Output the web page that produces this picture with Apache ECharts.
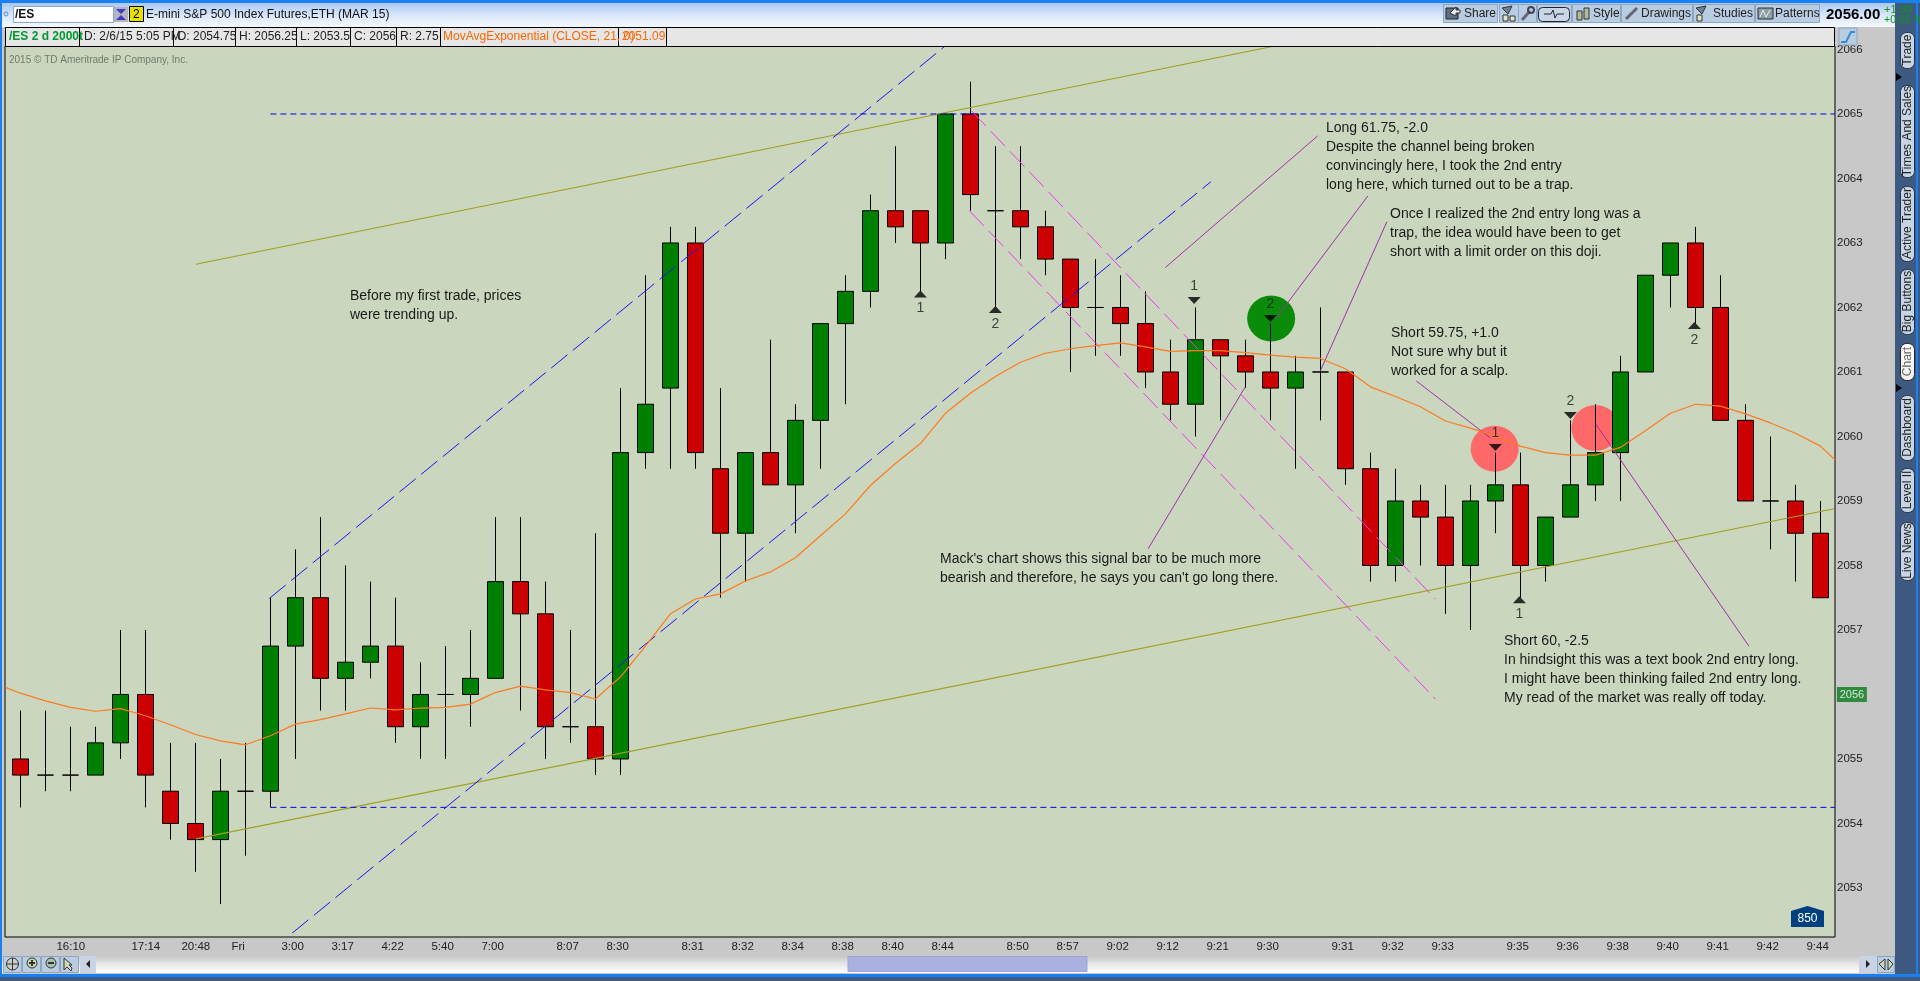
<!DOCTYPE html>
<html><head><meta charset="utf-8">
<style>html,body{margin:0;padding:0;background:#c8c8c8;overflow:hidden}#c{width:1920px;height:981px}</style>
<script src="https://cdn.jsdelivr.net/npm/echarts@6/dist/echarts.min.js"></script>
</head><body><div id="c"></div>
<script>
// bars: [open, close, low, high]
const ohlc = [
[2055,2054.75,2054.25,2055.75],[2054.75,2054.75,2054.5,2055.75],[2054.75,2054.75,2054.5,2055.5],[2054.75,2055.25,2054.75,2055.5],
[2055.25,2056,2055,2057],[2056,2054.75,2054.25,2057],[2054.5,2054,2053.75,2055.25],[2054,2053.75,2053.25,2055.25],
[2053.75,2054.5,2052.75,2055],[2054.5,2054.5,2053.5,2055.25],[2054.5,2056.75,2054.25,2057.5],[2056.75,2057.5,2055,2058.25],
[2057.5,2056.25,2055.75,2058.75],[2056.25,2056.5,2055.75,2058],[2056.5,2056.75,2056.25,2057.75],[2056.75,2055.5,2055.25,2057.5],
[2055.5,2056,2055,2056.5],[2056,2056,2055,2056.75],[2056,2056.25,2055.5,2057],[2056.25,2057.75,2056.25,2058.75],
[2057.75,2057.25,2055.75,2058.75],[2057.25,2055.5,2055,2057.75],[2055.5,2055.5,2055.25,2057],[2055.5,2055,2054.75,2058.5],
[2055,2059.75,2054.75,2060.75],[2059.75,2060.5,2059.5,2062.5],[2060.75,2063,2059.5,2063.25],[2063,2059.75,2059.5,2063.25],
[2059.5,2058.5,2057.5,2060.75],[2058.5,2059.75,2057.75,2059.75],[2059.75,2059.25,2059.25,2061.5],[2059.25,2060.25,2058.5,2060.5],
[2060.25,2061.75,2059.5,2061.75],[2061.75,2062.25,2060.5,2062.5],[2062.25,2063.5,2062,2063.75],[2063.5,2063.25,2063,2064.5],
[2063.5,2063,2062.25,2063.5],[2063,2065,2062.75,2065],[2065,2063.75,2063.5,2065.5],[2063.5,2063.5,2062,2064.5],
[2063.5,2063.25,2062.75,2064.5],[2063.25,2062.75,2062.5,2063.5],[2062.75,2062,2061,2062.75],[2062,2062,2061.25,2062.75],
[2062,2061.75,2061.25,2062.5],[2061.75,2061,2060.75,2062.25],[2061,2060.5,2060.25,2061.5],[2060.5,2061.5,2060,2062],
[2061.5,2061.25,2060.25,2061.5],[2061.25,2061,2060.75,2061.5],[2061,2060.75,2060.25,2061.75],[2060.75,2061,2059.5,2061.25],
[2061,2061,2060.25,2062],[2061,2059.5,2059.25,2061],[2059.5,2058,2057.75,2059.75],[2058,2059,2057.75,2059.5],
[2059,2058.75,2058,2059.25],[2058.75,2058,2057.25,2059.25],[2058,2059,2057,2059.25],[2059,2059.25,2058.5,2059.75],
[2059.25,2058,2057.5,2059.75],[2058,2058.75,2057.75,2058.75],[2058.75,2059.25,2058.75,2060.25],[2059.25,2059.75,2059,2060.5],
[2059.75,2061,2059,2061.25],[2061,2062.5,2061,2062.5],[2062.5,2063,2062,2063],[2063,2062,2061.75,2063.25],
[2062,2060.25,2060.25,2062.5],[2060.25,2059,2059,2060.5],[2059,2059,2058.25,2060],[2059,2058.5,2057.75,2059.25],
[2058.5,2057.5,2057.5,2059]
];
const emaValues = [
2056.02,2055.9,2055.8,2055.74,2055.78,2055.67,2055.53,2055.38,2055.28,2055.22,2055.36,2055.54,2055.61,2055.7,2055.79,2055.76,
2055.79,2055.8,2055.85,2056.03,2056.13,2056.07,2056.03,2055.93,2056.27,2056.75,2057.25,2057.48,2057.56,2057.76,2057.9,2058.12,
2058.46,2058.8,2059.24,2059.58,2059.89,2060.36,2060.67,2060.93,2061.15,2061.29,2061.36,2061.41,2061.45,2061.39,2061.32,2061.33,
2061.33,2061.3,2061.26,2061.23,2061.21,2061.05,2060.77,2060.62,2060.46,2060.24,2060.13,2060.01,2059.85,2059.75,2059.71,2059.71,
2059.83,2060.09,2060.36,2060.5,2060.47,2060.35,2060.21,2060.05,2059.85
];
const emaLead = [-0.6, 2056.11];
const emaTrail = [72.58, 2059.64];
const timeLabels = {2:'16:10',5:'17:14',7:'20:48',9:'Fri',11:'3:00',13:'3:17',15:'4:22',17:'5:40',19:'7:00',22:'8:07',24:'8:30',27:'8:31',29:'8:32',31:'8:34',33:'8:38',35:'8:40',37:'8:44',40:'8:50',42:'8:57',44:'9:02',46:'9:12',48:'9:21',50:'9:30',53:'9:31',55:'9:32',57:'9:33',60:'9:35',62:'9:36',64:'9:38',66:'9:40',68:'9:41',70:'9:42',72:'9:44'};
const priceTicks = [2053,2054,2055,2057,2058,2059,2060,2061,2062,2063,2064,2065,2066];
const lastPrice = 2056;
const olive = [[[7.02,2062.67],[50.12,2066.05]],[[7.02,2053.76],[72.55,2058.88]]];
const blueChannel = [[[9.96,2057.49],[36.98,2066.05]],[[10.87,2052.3],[47.62,2063.95]]];
const blueLevels = [[[10,2065],[72.58,2065]],[[10,2054.25],[72.58,2054.25]]];
const magenta = [[[38.04,2065.05],[56.6,2057.48]],[[37.96,2063.5],[56.6,2055.93]]];
const purple = [
[[45.8,2062.62],[51.89,2064.66]],[[50.2,2061.82],[53.9,2063.73]],[[52,2061.02],[54.66,2063.33]],
[[45.11,2058.26],[48.98,2060.76]],[[55.84,2060.86],[58.79,2059.98]],[[63.02,2060.19],[69.14,2056.75]]
];
const circlesGreen = [[50.03,2061.83]];
const circlesRed = [[58.97,2059.81],[63,2060.13]];
const upMarks = [[36,2062.21,'1'],[39,2061.97,'2'],[59.96,2057.47,'1'],[66.96,2061.72,'2']];
const downMarks = [[46.95,2062.11,'1'],[50,2061.83,'2'],[59,2059.83,'1'],[62,2060.325,'2']];
const notes = [
 {x:350,y:296,t:'Before my first trade, prices\nwere trending up.'},
 {x:1326,y:128,t:"Long 61.75, -2.0\nDespite the channel being broken\nconvincingly here, I took the 2nd entry\nlong here, which turned out to be a trap."},
 {x:1390,y:214,t:'Once I realized the 2nd entry long was a\ntrap, the idea would have been to get\nshort with a limit order on this doji.'},
 {x:1391,y:333,t:'Short 59.75, +1.0\nNot sure why but it\nworked for a scalp.'},
 {x:1504,y:641,t:'Short 60, -2.5\nIn hindsight this was a text book 2nd entry long.\nI might have been thinking failed 2nd entry long.\nMy read of the market was really off today.'},
 {x:940,y:559,t:"Mack's chart shows this signal bar to be much more\nbearish and therefore, he says you can't go long there."}
];
const headerCells = [
 ['/ES 2 d 2000t',9,'#009933','bold'],['D: 2/6/15 5:05 PM',84,'#222'],['O: 2054.75',177,'#222'],['H: 2056.25',239,'#222'],
 ['L: 2053.5',300,'#222'],['C: 2056',354,'#222'],['R: 2.75',400,'#222'],['MovAvgExponential (CLOSE, 21, 0)',443,'#ff6600'],['2051.09',622,'#ff6600']
];
const headerDividers = [79,173,235,296,350,396,440,618,666];
const toolButtons = [[1443,54,'Share',1464],[1499,19,''],[1518,18,''],[1537,34,''],[1572,48,'Style',1593],[1621,71,'Drawings',1641],[1693,61,'Studies',1713],[1755,64,'Patterns',1775]];
const sideTabs = [['Trade',32,68],['Times And Sales',85,177],['Active Trader',186,261],['Big Buttons',269,334],['Chart',343,380,1],['Dashboard',395,460],['Level II',468,512],['Live News',522,580]];

const FONT = '"Liberation Sans", Arial, sans-serif';
const chart = echarts.init(document.getElementById('c'), null, {renderer:'canvas', width:1920, height:981});
const rect=(x,y,w,h,fill,stroke,r,z)=>({type:'rect',shape:{x,y,width:w,height:h,r:r||0},style:{fill,stroke:stroke||null,lineWidth:1},z:z||20,silent:true});
const txt=(x,y,text,font,fill,extra)=>Object.assign({type:'text',x,y,style:{text,font,fill,textVerticalAlign:'middle',textAlign:'left'},z:21,silent:true},extra||{});
const vgrad=(a)=>({type:'linear',x:0,y:0,x2:0,y2:1,colorStops:a.map((c,i)=>({offset:i/(a.length-1),color:c}))});
const poly=(pts,fill,stroke,z)=>({type:'polygon',shape:{points:pts},style:{fill,stroke:stroke||null,lineWidth:1},z:z||21,silent:true});
const pl=(pts,stroke,w)=>({type:'polyline',shape:{points:pts},style:{fill:null,stroke,lineWidth:w||1},z:22,silent:true});

const g=[];
// top bar
g.push(rect(0,0,1920,3,'#1a80f0'));
g.push(rect(0,3,1920,24,vgrad(['#a8c8f4','#d8e6fa','#f4f8fe'])));
g.push(rect(0,3,2,978,'#1a80f0'));
g.push(rect(1895,3,25,978,'#3e5a80'));
g.push(rect(1916,3,2,978,'#1a80f0'));
// symbol box
g.push({type:'circle',shape:{cx:6,cy:14,r:2},style:{fill:null,stroke:'#5a88d8'},z:21,silent:true});
g.push(rect(13.5,6.5,100,16,'#fff','#8aa8d0'));
g.push(txt(15,15,'/ES','bold 12px '+FONT,'#111'));
g.push(rect(114,7,14,15,'#b4b4c0'));
g.push(poly([[116,9],[126,9],[121,14]],'#3c3cc0'));
g.push(poly([[116,20],[126,20],[121,15]],'#3c3cc0'));
g.push(rect(129.5,6.5,14,15,'#e8e000','#000'));
g.push(txt(133,15,'2','12px '+FONT,'#000'));
g.push(txt(146,15,'E-mini S&P 500 Index Futures,ETH (MAR 15)','12px '+FONT,'#111'));
// tool buttons
toolButtons.forEach(b=>{
  g.push(rect(b[0]+.5,4.5,b[1],18,'#b9cde2','#8ea6c0'));
  if(b[2]) g.push(txt(b[3],14,b[2],'12px '+FONT,'#222'));
});
g.push(rect(1446,8,12,11,'#5d7288','#222'));g.push(poly([[1450,13],[1456,7],[1456,10],[1460,10],[1460,13],[1456,13],[1456,16]],'#e8eef4','#333'));
g.push(poly([[1502,8],[1512,6],[1508,14]],'#6e8296','#333'));g.push(rect(1503,15,5,6,'#dfe6c8','#333'));g.push(rect(1510,16,5,5,'#dfe6c8','#333'));
g.push(pl([[1522,20],[1530,11]],'#667',3));g.push({type:'circle',shape:{cx:1531,cy:10,r:3},style:{fill:null,stroke:'#445',lineWidth:2},z:22,silent:true});
g.push(rect(1538.5,7.5,31,14,'#c8d6e6','#223',4));g.push(pl([[1544,14],[1551,14],[1553,10],[1555,18],[1557,14],[1564,14]],'#223'));
g.push(rect(1577,11,5,9,'#b0bc98','#333'));g.push(rect(1584,8,5,11,'#b0bc98','#333'));
g.push(pl([[1626,19],[1637,8]],'#667',3));
g.push(poly([[1696,8],[1706,6],[1702,14]],'#6e8296','#333'));g.push(rect(1697,15,5,6,'#dfe6c8','#333'));
g.push(rect(1758,8,15,11,'#8ea0a8','#333'));g.push(pl([[1760,17],[1763,10],[1766,17],[1770,10]],'#eee'));
// price
g.push(txt(1826,15,'2056.00','bold 15px '+FONT,'#000'));
g.push(txt(1884,10,'+1.00','11px '+FONT,'#0a9a0a'));
g.push(txt(1884,20,'+0.05 %','10.5px '+FONT,'#0a9a0a'));
// header row
g.push(rect(5.5,27.5,1829,19,'#e6e6e6','#000'));
headerDividers.forEach(x=>g.push(rect(x,28,1,18,'#000')));
headerCells.forEach(c=>g.push(txt(c[1],37,c[0],(c[3]?c[3]+' ':'')+'12px '+FONT,c[2])));
g.push(rect(1839,28,18,17,'#b9cde2','#8ea6c0'));g.push(pl([[1841,42],[1846,42],[1851,32],[1855,32]],'#3a8ad0',2));
g.push(txt(9,60,'2015 © TD Ameritrade IP Company, Inc.','10px '+FONT,'#707c6c',{style:{text:'2015 © TD Ameritrade IP Company, Inc.',font:'10px '+FONT,fill:'#707c6c',textVerticalAlign:'middle',textAlign:'left'}}));
// notes
notes.forEach(n=>g.push({type:'text',x:n.x,y:n.y-9.5,style:{text:n.t,font:'14px '+FONT,fill:'#1a1a1a',lineHeight:19,textAlign:'left',textVerticalAlign:'top'},z:15,silent:true}));
// 850 badge
g.push(poly([[1791,911],[1807.5,906],[1824,911],[1824,927],[1791,927]],'#004080',null,15));
g.push({type:'text',x:1807.5,y:918.5,style:{text:'850',font:'12px '+FONT,fill:'#fff',textAlign:'center',textVerticalAlign:'middle'},z:16,silent:true});
// side tabs
sideTabs.forEach(t=>{
  const on=t[3];
  g.push(rect(1900.5,t[1]+.5,14,t[2]-t[1],on?vgrad(['#fff','#eee']):'#c6d4e4',on?'#222':'#20344e',6));
  g.push({type:'text',x:1908,y:(t[1]+t[2])/2,rotation:Math.PI/2*1,style:{text:t[0],font:'12px '+FONT,fill:on?'#666':'#222',textAlign:'center',textVerticalAlign:'middle'},z:21,silent:true});
});
g.push(poly([[1896,73],[1902,77],[1896,81]],'#000'));
g.push(poly([[1896,384],[1902,388],[1896,392]],'#000'));
// bottom strip
g.push(rect(2,956,1893,17,vgrad(['#c8c8c8','#e8e8e8','#fff'])));
g.push(rect(0,974,1920,3,'#1a80f0'));
g.push(rect(0,977,1920,4,'#3e5a80'));
[3,22,41,60].forEach(x=>g.push(rect(x+.5,956.5,18,16,'#b9cde2','#8ea6c0')));
g.push({type:'circle',shape:{cx:12.5,cy:964,r:6},style:{fill:'#c8d0c8',stroke:'#333'},z:22,silent:true});g.push(pl([[12.5,958],[12.5,970]],'#333'));g.push(pl([[6.5,964],[18.5,964]],'#333'));
g.push({type:'circle',shape:{cx:32,cy:963,r:5},style:{fill:'#c8d8a8',stroke:'#333'},z:22,silent:true});g.push(pl([[29,963],[35,963]],'#333',2));g.push(pl([[32,960],[32,966]],'#333',2));
g.push({type:'circle',shape:{cx:51,cy:963,r:5},style:{fill:'#a8c0b0',stroke:'#333'},z:22,silent:true});g.push(pl([[48,963],[54,963]],'#333',2));
g.push(poly([[64,958],[64,970],[67,967],[71,971],[72,968],[69,965],[72,965]],'#cfd8b8','#333'));
g.push(rect(80,956,16,17,'#c8d4e4'));g.push(poly([[90,960],[90,968],[86,964]],'#222'));
g.push(rect(848,956.5,239,15,'#aab0e0','#9ea4d8'));
g.push(rect(1859,956,18,17,'#c8d4e4'));g.push(poly([[1866,960],[1866,968],[1870,964]],'#222'));
g.push(rect(1877.5,956.5,17,16,'#b9cde2','#8ea6c0'));g.push(poly([[1885,959],[1885,970],[1879,964]],'#cfd8b8','#333'));g.push(poly([[1888,959],[1888,970],[1893,964]],'#cfd8b8','#333'));

const trend=(name,d,color,width,dash,z)=>({name,type:'line',data:d,xAxisIndex:0,yAxisIndex:0,showSymbol:false,symbol:'none',silent:true,clip:true,z:z||3,
  lineStyle:{color,width,type:dash||'solid'},animation:false});
const series=[];
series.push({type:'scatter',name:'green circle',data:circlesGreen,symbol:'circle',symbolSize:[48,46],itemStyle:{color:'#0a8c0a',opacity:1},z:1,silent:true,animation:false});
series.push({type:'scatter',name:'red circles',data:circlesRed,symbol:'circle',symbolSize:[48,46],itemStyle:{color:'#ff6868',opacity:1},z:1,silent:true,animation:false});
series.push({type:'candlestick',name:'/ES',data:ohlc.map((d,i)=>[i,d[0],d[1],d[2],d[3]]),encode:{x:0,y:[1,2,3,4]},barWidth:16,z:2,silent:true,animation:false,
  itemStyle:{color:'#008000',color0:'#cc0000',borderColor:'#000',borderColor0:'#000',borderColorDoji:'#000',borderWidth:1}});
olive.forEach((d,i)=>series.push(trend('olive'+i,d,'#a0a020',1.2)));
blueChannel.forEach((d,i)=>series.push(trend('channel'+i,d,'#1818f0',1,[21,7])));
blueLevels.forEach((d,i)=>series.push(trend('level'+i,d,'#0000e8',1,[6,4])));
magenta.forEach((d,i)=>series.push(trend('magenta'+i,d,'#f038f0',1,[21,7])));
purple.forEach((d,i)=>series.push(trend('note'+i,d,'#a030a8',1)));
series.push(trend('MovAvgExponential',[emaLead].concat(emaValues.map((v,i)=>[i,v])).concat([emaTrail]),'#ff7a20',1.2,null,4));
const marks=(name,d,rot,pos)=>({type:'scatter',name,data:d,symbol:'triangle',symbolRotate:rot,symbolSize:[13,7],itemStyle:{color:'#000'},z:6,silent:true,animation:false,
  label:{show:true,position:pos,distance:4,formatter:p=>p.value[2],fontFamily:FONT,fontSize:14,color:'#1a1a1a'}});
series.push(marks('up marks',upMarks,0,'bottom'));
series.push(marks('down marks',downMarks,180,'top'));
series.push({type:'scatter',name:'last price',data:[[73.26,lastPrice]],symbol:'rect',symbolSize:[30,15],clip:false,itemStyle:{color:'#0a7a1a'},z:6,silent:true,animation:false,
  label:{show:true,position:'inside',formatter:String(lastPrice),fontFamily:FONT,fontSize:11,color:'#fff'}});

const xShift=0.56;
chart.setOption({
  animation:false,
  backgroundColor:'#c8c8c8',
  tooltip:{show:false},
  grid:{left:5,top:46,width:1830,height:891,show:true,backgroundColor:'#cad6bd',borderColor:'#000',borderWidth:1,containLabel:false},
  xAxis:{type:'value',min:-0.616,max:72.584,splitLine:{show:false},axisLine:{show:false},axisTick:{show:false},
    axisLabel:{show:true,customValues:Object.keys(timeLabels).map(k=>+k-xShift),align:'left',margin:4,fontFamily:FONT,fontSize:11.5,color:'#222',hideOverlap:false,
      formatter:v=>timeLabels[Math.round(v+xShift)]||''}},
  yAxis:{type:'value',position:'right',min:2052.24,max:2066.054,splitLine:{show:false},axisLine:{show:false},axisTick:{show:false},
    axisLabel:{show:true,customValues:priceTicks,margin:2,fontFamily:FONT,fontSize:11.5,color:'#222',align:'left',hideOverlap:false,formatter:v=>String(Math.round(v))}},
  series,
  graphic:{elements:g}
});
</script></body></html>
